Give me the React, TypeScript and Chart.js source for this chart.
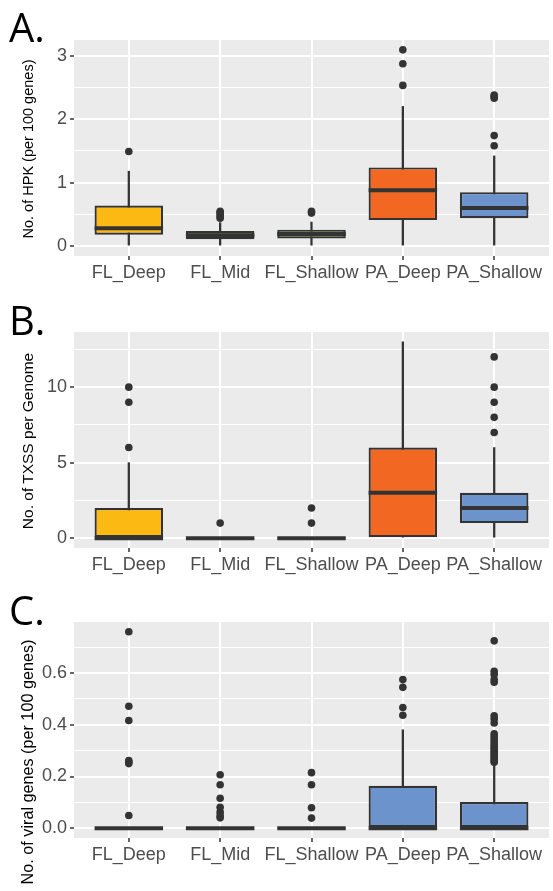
import React, { useEffect, useRef } from 'react';
import Chart from 'chart.js/auto';

const categories = ['FL_Deep', 'FL_Mid', 'FL_Shallow', 'PA_Deep', 'PA_Shallow'];

// Panel A: HPK per 100 genes
const hpkLow = [0, 0, 0, 0, 0];
const hpkQ1 = [0.18, 0.11, 0.12, 0.41, 0.44];
const hpkMedian = [0.28, 0.17, 0.19, 0.88, 0.6];
const hpkQ3 = [0.64, 0.24, 0.26, 1.24, 0.85];
const hpkHigh = [1.18, 0.37, 0.38, 2.2, 1.42];
const hpkOutliers = [
  [1.49],
  [0.44, 0.47, 0.5, 0.53, 0.55],
  [0.52, 0.55],
  [2.53, 2.87, 3.09],
  [1.58, 1.74, 2.33, 2.36, 2.38],
];
const hpkColors = ['#FDB913', '#78B43E', '#78B43E', '#F26722', '#6D93CC'];
const hpkMajorTicks = [0, 1, 2, 3];
const hpkMinorTicks = [0.5, 1.5, 2.5];

// Panel B: TXSS per genome
const txssLow = [0, 0, 0, 0, 0];
const txssQ1 = [0, 0, 0, 0, 1];
const txssMedian = [0, 0, 0, 3, 2];
const txssQ3 = [2, 0, 0, 6, 3];
const txssHigh = [5, 0, 0, 13, 6];
const txssOutliers = [[6, 9, 10], [1], [1, 2], [], [7, 8, 9, 10, 12]];
const txssColors = ['#FDB913', '#78B43E', '#78B43E', '#F26722', '#6D93CC'];
const txssMajorTicks = [0, 5, 10];
const txssMinorTicks = [2.5, 7.5, 12.5];

// Panel C: viral genes per 100 genes
const viralLow = [0, 0, 0, 0, 0];
const viralQ1 = [0, 0, 0, 0, 0];
const viralMedian = [0, 0, 0, 0, 0];
const viralQ3 = [0, 0, 0, 0.164, 0.101];
const viralHigh = [0, 0, 0, 0.381, 0.243];
const viralOutliers = [
  [0.049, 0.25, 0.256, 0.262, 0.417, 0.472, 0.76],
  [0.04, 0.048, 0.062, 0.081, 0.116, 0.168, 0.207],
  [0.039, 0.079, 0.168, 0.215],
  [0.437, 0.467, 0.545, 0.575],
  [0.255, 0.262, 0.27, 0.278, 0.286, 0.294, 0.302, 0.31, 0.318, 0.326, 0.335, 0.345, 0.355, 0.365, 0.407, 0.423, 0.435, 0.565, 0.575, 0.595, 0.607, 0.725],
];
const viralColors = ['#6D93CC', '#6D93CC', '#6D93CC', '#6D93CC', '#6D93CC'];
const viralMajorTicks = [0, 0.2, 0.4, 0.6];
const viralMinorTicks = [0.1, 0.3, 0.5, 0.7];

const DARK = '#333333';
const FONT = "'Liberation Sans', Arial, sans-serif";

const bgPlugin = {
  id: 'panelBackground',
  beforeDraw(chart: any) {
    const { ctx, chartArea: a } = chart;
    ctx.save();
    ctx.fillStyle = '#EBEBEB';
    ctx.fillRect(a.left, a.top, a.right - a.left, a.bottom - a.top);
    ctx.restore();
  },
};

type PanelCfg = {
  top: number;
  height: number;
  padTop: number;
  yMin: number;
  yMax: number;
  major: number[];
  minor: number[];
  decimals: number;
  low: number[];
  q1: number[];
  median: number[];
  q3: number[];
  high: number[];
  outliers: number[][];
  colors: string[];
};

function Panel({ cfg }: { cfg: PanelCfg }) {
  const ref = useRef<HTMLCanvasElement | null>(null);
  useEffect(() => {
    const isMajor = (v: number) => cfg.major.some((m) => Math.abs(m - v) < 1e-9);
    const allTicks = [...cfg.major, ...cfg.minor]
      .filter((v) => v >= cfg.yMin && v <= cfg.yMax)
      .sort((a, b) => a - b);
    const outlierPts: { x: number; y: number }[] = [];
    cfg.outliers.forEach((arr, i) => arr.forEach((v) => outlierPts.push({ x: i, y: v })));
    const halfBox = (c: any) => {
      const s = c.chart.scales.x;
      return (Math.abs(s.getPixelForValue(1) - s.getPixelForValue(0)) * 0.75) / 2;
    };
    const chart = new Chart(ref.current as HTMLCanvasElement, {
      type: 'bar',
      data: {
        datasets: [
          {
            type: 'scatter',
            order: 0,
            data: outlierPts,
            pointRadius: 3.8,
            pointBackgroundColor: DARK,
            pointBorderWidth: 0,
            pointBorderColor: DARK,
          } as any,
          {
            type: 'scatter',
            order: 1,
            data: cfg.median.map((v, i) => ({ x: i, y: v })),
            pointStyle: 'line',
            pointRadius: halfBox,
            pointBorderColor: DARK,
            pointBorderWidth: 4,
          } as any,
          {
            type: 'bar',
            order: 2,
            data: cfg.q1.map((v, i) => ({ x: i, y: [v, cfg.q3[i]] })),
            backgroundColor: cfg.colors,
            borderColor: DARK,
            borderWidth: 2.2,
            borderSkipped: false,
            grouped: false,
            barPercentage: 0.75,
            categoryPercentage: 1,
          } as any,
          {
            type: 'bar',
            order: 3,
            data: cfg.low.map((v, i) => ({ x: i, y: [v, cfg.high[i]] })),
            backgroundColor: DARK,
            borderWidth: 0,
            barThickness: 1.6,
            grouped: false,
          } as any,
        ],
      },
      options: {
        animation: false,
        responsive: false,
        events: [],
        layout: { padding: { top: cfg.padTop, left: 0, right: 0, bottom: 0 } },
        plugins: { legend: { display: false }, tooltip: { enabled: false } },
        scales: {
          x: {
            type: 'linear',
            min: -0.6,
            max: 4.6,
            offset: false,
            bounds: 'data',
            afterBuildTicks: (s: any) => {
              s.ticks = categories.map((_, i) => ({ value: i }));
            },
            afterFit: (s: any) => {
              s.height = cfg.height - cfg.padTop - 216;
            },
            grid: {
              offset: false,
              color: '#FFFFFF',
              lineWidth: 2,
              tickColor: DARK,
              tickLength: 4,
              tickWidth: 1.5,
              drawTicks: true,
            },
            border: { display: false },
            ticks: {
              autoSkip: false,
              maxRotation: 0,
              padding: 2,
              color: '#4D4D4D',
              font: { family: FONT, size: 18 },
              callback: (v: any) => categories[Math.round(Number(v))] ?? '',
            },
          },
          y: {
            type: 'linear',
            min: cfg.yMin,
            max: cfg.yMax,
            bounds: 'data',
            afterBuildTicks: (s: any) => {
              s.ticks = allTicks.map((v) => ({ value: v }));
            },
            afterFit: (s: any) => {
              s.width = 74;
            },
            grid: {
              color: '#FFFFFF',
              lineWidth: (c: any) => (c.tick && isMajor(c.tick.value) ? 2 : 1),
              tickColor: (c: any) => (c.tick && isMajor(c.tick.value) ? DARK : 'rgba(0,0,0,0)'),
              tickLength: 4,
              tickWidth: 1.5,
              drawTicks: true,
            },
            border: { display: false },
            ticks: {
              padding: 3,
              color: '#4D4D4D',
              font: { family: FONT, size: 18 },
              callback: (v: any) => (isMajor(Number(v)) ? Number(v).toFixed(cfg.decimals) : ''),
            },
          },
        },
      } as any,
      plugins: [bgPlugin],
    });
    return () => chart.destroy();
  }, []);
  return (
    <canvas
      ref={ref}
      width={553}
      height={cfg.height}
      style={{ position: 'absolute', left: 0, top: cfg.top, width: 553, height: cfg.height, display: 'block' }}
    />
  );
}

const panels: PanelCfg[] = [
  {
    top: 0, height: 290, padTop: 40, yMin: -0.155, yMax: 3.245,
    major: hpkMajorTicks, minor: hpkMinorTicks, decimals: 0,
    low: hpkLow, q1: hpkQ1, median: hpkMedian, q3: hpkQ3, high: hpkHigh,
    outliers: hpkOutliers, colors: hpkColors,
  },
  {
    top: 300, height: 280, padTop: 32, yMin: -0.65, yMax: 13.65,
    major: txssMajorTicks, minor: txssMinorTicks, decimals: 0,
    low: txssLow, q1: txssQ1, median: txssMedian, q3: txssQ3, high: txssHigh,
    outliers: txssOutliers, colors: txssColors,
  },
  {
    top: 590, height: 301, padTop: 32, yMin: -0.038, yMax: 0.798,
    major: viralMajorTicks, minor: viralMinorTicks, decimals: 1,
    low: viralLow, q1: viralQ1, median: viralMedian, q3: viralQ3, high: viralHigh,
    outliers: viralOutliers, colors: viralColors,
  },
];

const yTitles = [
  { text: 'No. of HPK (per 100 genes)', x: 28, y: 149, size: 14.5 },
  { text: 'No. of TXSS per Genome', x: 28, y: 441, size: 15.5 },
  { text: 'No. of viral genes (per 100 genes)', x: 27, y: 762, size: 16.2 },
];

const letters = [
  { text: 'A.', x: 9, y: 7 },
  { text: 'B.', x: 9, y: 300 },
  { text: 'C.', x: 9, y: 590 },
];

export default function App() {
  return (
    <div style={{ position: 'absolute', left: 0, top: 0, width: 553, height: 891, overflow: 'hidden', background: '#FFFFFF' }}>
      {panels.map((p, i) => (
        <Panel key={i} cfg={p} />
      ))}
      {yTitles.map((t, i) => (
        <div
          key={'t' + i}
          style={{
            position: 'absolute',
            left: t.x,
            top: t.y,
            transform: 'translate(-50%, -50%) rotate(-90deg)',
            whiteSpace: 'nowrap',
            fontFamily: FONT,
            fontSize: t.size,
            lineHeight: 1,
            color: '#000000',
          }}
        >
          {t.text}
        </div>
      ))}
      {letters.map((l, i) => (
        <div
          key={'l' + i}
          style={{
            position: 'absolute',
            left: l.x,
            top: l.y,
            fontFamily: "'Open Sans', sans-serif",
            fontSize: 40,
            lineHeight: 1,
            color: '#000000',
          }}
        >
          {l.text}
        </div>
      ))}
    </div>
  );
}
